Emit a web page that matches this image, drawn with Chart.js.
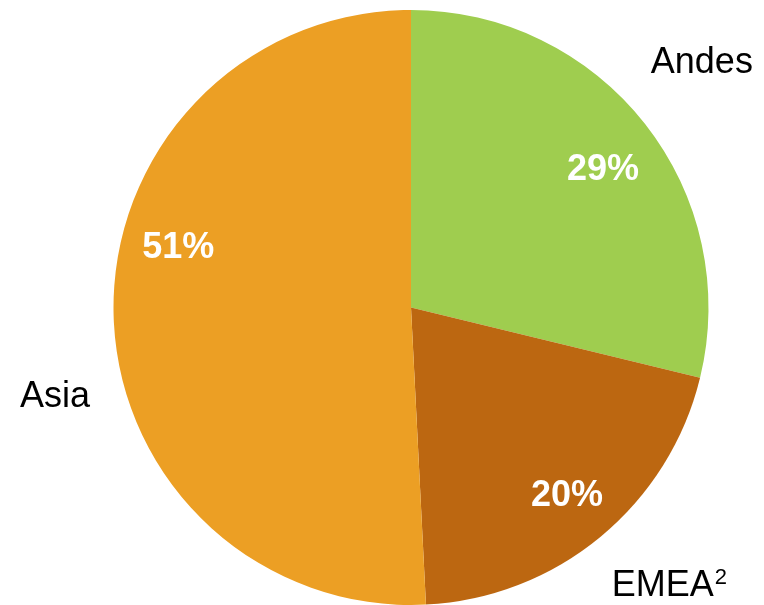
<!DOCTYPE html>
<html>
<head>
<meta charset="utf-8">
<script src="https://cdn.jsdelivr.net/npm/chart.js@4.4.1/dist/chart.umd.min.js"></script>
<style>
  html, body { margin: 0; padding: 0; background: #fff; }
  #wrap { width: 764px; height: 605px; }
</style>
</head>
<body>
<div id="wrap"><canvas id="pie-chart" width="764" height="605"></canvas></div>
<script>
// data (share of total, %)
const regions = ["Andes", "EMEA", "Asia"];
const shares = [28.8, 20.4, 50.8];
const regionColors = ["#9fcd4f", "#bc6711", "#ec9f24"];
const regionSup = ["", "2", ""];

// label placement: angle shift (deg, clockwise) and distance as share of radius
const pctLayout = [{ shift: 1.9, dist: 0.8 }, { shift: -0.4, dist: 0.816 }, { shift: 16.4, dist: 0.81 }];
const nameLayout = [{ shift: -2.2, dist: 1.283 }, { shift: -3.6, dist: 1.269 }, { shift: -12.2, dist: 1.231 }];

const FONT = "'Liberation Sans', Arial, sans-serif";

const labelPlugin = {
  id: "pieLabels",
  afterDraw(chart) {
    const ctx = chart.ctx;
    const arcs = chart.getDatasetMeta(0).data;
    ctx.save();
    arcs.forEach((arc, i) => {
      const mid = (arc.startAngle + arc.endAngle) / 2;
      const r = arc.outerRadius;

      // percentage inside the slice
      let a = mid + pctLayout[i].shift * Math.PI / 180;
      let x = arc.x + Math.cos(a) * r * pctLayout[i].dist;
      let y = arc.y + Math.sin(a) * r * pctLayout[i].dist;
      ctx.font = "bold 36px " + FONT;
      ctx.fillStyle = "#ffffff";
      ctx.textAlign = "center";
      ctx.textBaseline = "alphabetic";
      ctx.fillText(Math.round(shares[i]) + "%", x, y + 13);

      // region name outside
      a = mid + nameLayout[i].shift * Math.PI / 180;
      x = arc.x + Math.cos(a) * r * nameLayout[i].dist;
      y = arc.y + Math.sin(a) * r * nameLayout[i].dist;
      ctx.fillStyle = "#000000";
      ctx.font = "36px " + FONT;
      const w1 = ctx.measureText(regions[i]).width;
      let w2 = 0;
      if (regionSup[i]) {
        ctx.font = "22px " + FONT;
        w2 = ctx.measureText(regionSup[i]).width + 1;
      }
      const left = x - (w1 + w2) / 2;
      ctx.textAlign = "left";
      ctx.font = "36px " + FONT;
      ctx.fillText(regions[i], left, y + 13);
      if (regionSup[i]) {
        ctx.font = "22px " + FONT;
        ctx.fillText(regionSup[i], left + w1 + 1, y + 1);
      }
    });
    ctx.restore();
  }
};

new Chart(document.getElementById("pie-chart"), {
  type: "pie",
  data: {
    labels: regions,
    datasets: [{
      data: shares,
      backgroundColor: regionColors,
      borderWidth: 0
    }]
  },
  options: {
    responsive: false,
    animation: false,
    layout: { padding: { top: 10, bottom: 0, left: 58, right: 0 } },
    plugins: {
      legend: { display: false },
      tooltip: { enabled: false }
    }
  },
  plugins: [labelPlugin]
});
</script>
</body>
</html>
